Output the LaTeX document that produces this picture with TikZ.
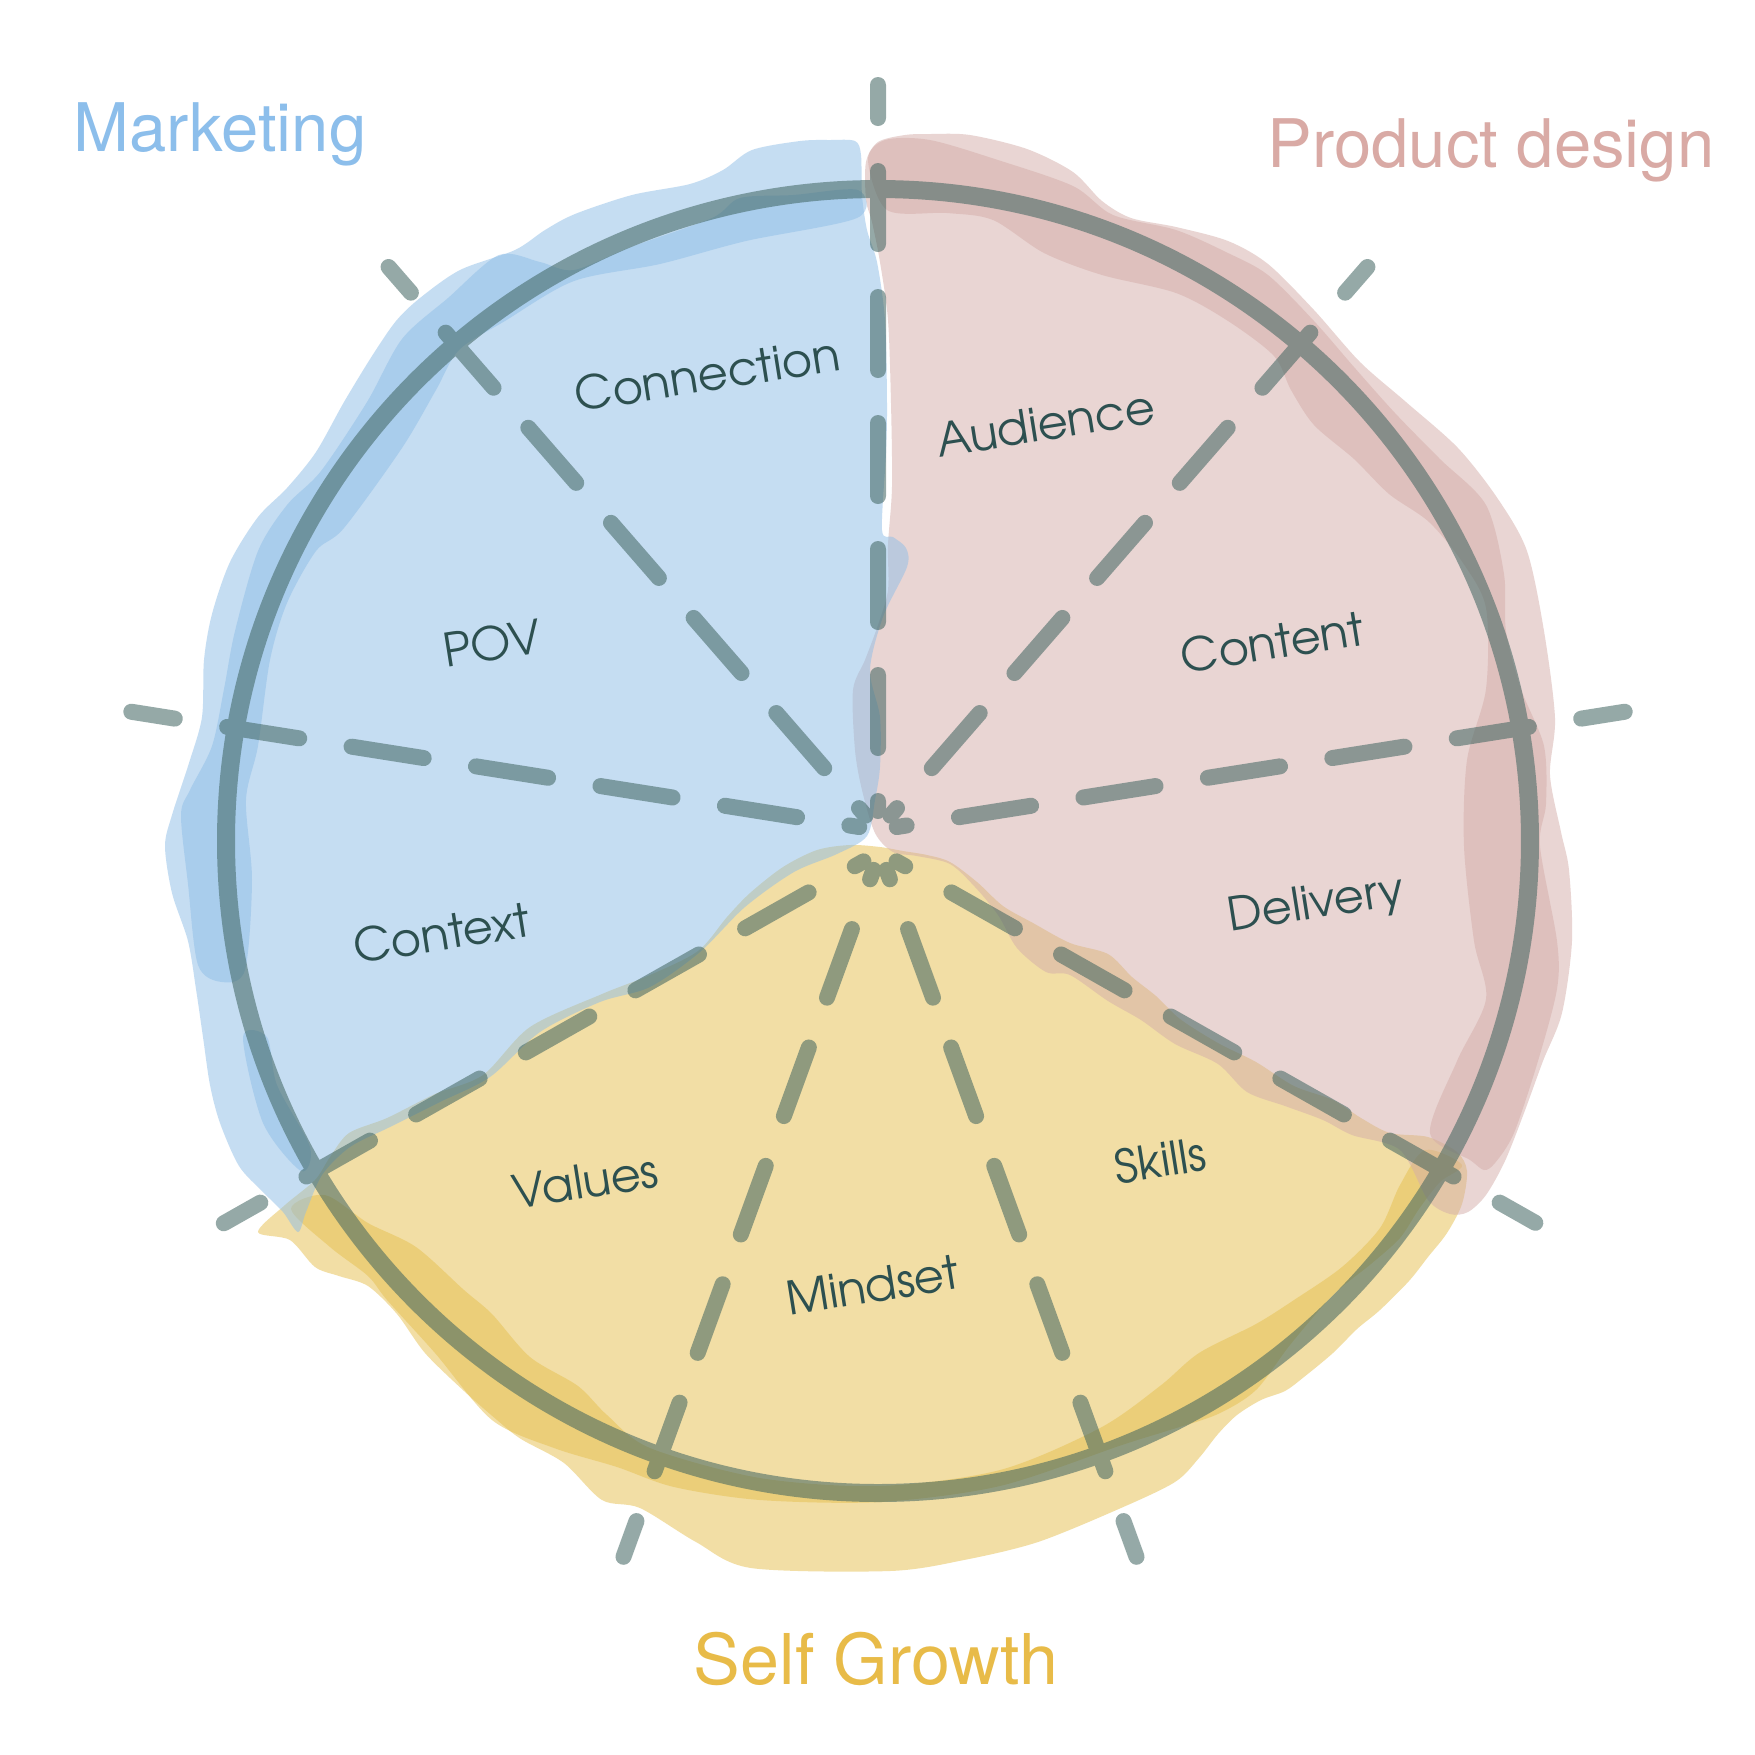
\documentclass[tikz,border=0pt]{standalone}
\usepackage{fontspec}
\newfontfamily\titlefont{TeX Gyre Heros}
\newfontfamily\labelfont{TeX Gyre Adventor}
\usetikzlibrary{calc}
\definecolor{blueC}{RGB}{143,190,231}
\definecolor{pinkC}{RGB}{212,173,169}
\definecolor{yellowC}{RGB}{230,192,79}
\definecolor{lineC}{RGB}{62,99,95}
\definecolor{labelC}{RGB}{45,80,80}
\definecolor{mkC}{RGB}{140,190,235}
\definecolor{pdC}{RGB}{217,170,165}
\definecolor{sgC}{RGB}{232,187,72}
\tikzset{
  lbl/.style={font=\labelfont\fontsize{4.62mm}{5.5mm}\selectfont, text=labelC, rotate=9, anchor=base, inner sep=0pt},
  ttl/.style={font=\titlefont\fontsize{6.7mm}{8mm}\selectfont, anchor=base, inner sep=0pt},
  dashline/.style={line width=1.6mm, line cap=round, draw=lineC, dash pattern=on 7.3mm off 5.3mm, dash phase=6.3mm},
  ring/.style={line width=1.8mm, draw=lineC},
  layer/.style={fill opacity=0.51}
}
\begin{document}
\begin{tikzpicture}[x=0.1mm,y=-0.1mm]
\fill[white] (0,0) rectangle (1755,1755);
\useasboundingbox (0,0) rectangle (1755,1755);

% ---------- yellow (Self Growth) ----------
\fill[yellowC,layer] plot[smooth cycle, tension=0.5] coordinates {
(880,847)(903,851)(927,855)(950,862)(977,882)(1003,906)(1033,923)(1070,943)(1108,954)(1132,977)(1156,996)(1180,1019)(1218,1043)(1256,1062)(1294,1086)(1333,1100)(1361,1118)(1390,1133)(1428,1137)(1457,1152)(1467,1171)(1462,1204)(1447,1233)(1428,1257)(1409,1281)(1380,1310)(1357,1329)(1333,1353)(1304,1377)(1285,1391)(1261,1400)(1237,1415)(1218,1434)(1199,1458)(1175,1482)(1121,1508)(1038,1542)(964,1560)(890,1571)(751,1568)(696,1542)(640,1508)(602,1500)(564,1463)(521,1439)(497,1420)(464,1391)(425,1353)(397,1314)(368,1286)(339,1276)(315,1267)(290,1240)(258,1232)(285,1205)(315,1180)(330,1157)(349,1133)(387,1118)(435,1094)(483,1075)(530,1027)(602,994)(650,975)(698,951)(727,917)(750,893)(783,867)(817,850)(850,845)};
\fill[yellowC,layer] plot[smooth cycle, tension=0.5] coordinates {
(291,1209)(330,1247)(368,1276)(387,1300)(435,1353)(492,1420)(554,1448)(617,1467)(674,1487)(760,1500)(880,1502)(1000,1486)(1122,1445)(1170,1430)(1218,1414)(1256,1390)(1290,1345)(1333,1295)(1371,1264)(1400,1238)(1419,1209)(1440,1182)(1462,1165)
(1425,1150)(1400,1185)(1380,1228)(1342,1267)(1294,1300)(1256,1324)(1199,1353)(1160,1386)(1100,1428)(1000,1470)(880,1486)(760,1478)(650,1448)(607,1415)(578,1386)(530,1357)(492,1314)(464,1290)(416,1247)(368,1223)(325,1195)};

% ---------- pink (Product design) ----------
\fill[pinkC,layer] plot[smooth cycle, tension=0.5] coordinates {
(878,142)(905,135)(930,134)(970,135)(1027,149)(1073,172)(1102,201)(1131,218)(1176,227)(1228,241)(1268,264)(1314,310)(1360,362)(1406,402)(1458,448)(1498,499)(1527,551)(1544,631)(1555,718)(1550,775)(1561,832)(1569,870)(1572,941)(1562,1013)(1543,1061)(1524,1113)(1505,1161)(1486,1195)(1468,1212)(1450,1214)(1428,1200)(1400,1150)(1352,1135)(1323,1120)(1285,1106)(1247,1092)(1218,1064)(1175,1044)(1141,1020)(1108,1001)(1070,975)(1046,972)(1017,948)(998,915)(975,887)(950,864)(917,856)(893,852)(875,833)(862,790)(855,750)(853,690)(865,660)(878,625)(888,590)(888,545)(892,487)(891,403)(888,320)(880,262)(872,222)(866,200)(866,162)};
\fill[pinkC,layer] plot[smooth cycle, tension=0.5] coordinates {
(868,160)(885,140)(930,140)(998,160)(1073,186)(1113,215)(1176,230)(1228,253)(1268,275)(1314,321)(1354,367)(1395,413)(1440,459)(1486,505)(1504,574)(1506,631)(1521,689)(1544,746)(1546,804)(1540,846)(1557,941)(1557,989)(1538,1061)(1514,1133)(1495,1163)(1484,1170)
(1470,1160)(1430,1133)(1457,1061)(1486,999)(1474,941)(1464,846)(1467,760)(1486,689)(1486,608)(1463,563)(1429,522)(1389,494)(1354,459)(1314,425)(1291,390)(1274,356)(1228,321)(1176,293)(1102,275)(1044,253)(993,220)(947,213)(887,210)};

% ---------- blue (Marketing) ----------
\fill[blueC,layer] plot[smooth cycle, tension=0.5] coordinates {
(855,141)(830,140)(800,141)(752,150)(723,170)(690,184)(632,195)(575,214)(545,230)(515,250)(460,270)(420,298)(396,321)(372,356)(344,402)(316,452)(287,488)(258,517)(230,562)(212,614)(204,660)(202,717)(189,763)(172,815)(165,846)(172,893)(188,941)(196,989)(203,1037)(210,1085)(220,1123)(239,1166)(263,1192)(283,1212)(298,1232)(306,1212)(322,1175)(350,1147)(390,1127)(440,1102)(490,1077)(540,1032)(600,1002)(650,987)(700,952)(745,907)(794,872)(837,854)(867,836)(875,800)(880,767)(880,717)(870,670)(883,617)(907,567)(906,548)(893,537)(882,530)(886,453)(887,403)(885,320)(877,262)(867,230)(862,195)(861,155)};
\fill[blueC,layer] plot[smooth cycle, tension=0.5] coordinates {
(858,190)(793,195)(740,198)(712,218)(631,247)(574,270)(540,262)(499,255)(448,298)(402,339)(367,402)(321,471)(287,505)(258,551)(235,631)(224,689)(212,746)(190,790)(181,815)(188,884)(198,965)(222,982)
(245,970)(252,880)(246,800)(258,746)(270,660)(287,603)(316,551)(344,528)(402,448)(436,390)(459,350)(505,321)(574,281)(660,264)(746,241)(857,218)};
\fill[blueC,layer] plot[smooth cycle, tension=0.5] coordinates {
(243,1037)(263,1123)(301,1171)(310,1147)(277,1085)(267,1037)};

% ---------- circle and dashed spokes (one translucent group) ----------
\coordinate (C) at (878,841);
\coordinate (U) at (878,830);
\coordinate (D) at (880,852);
\begin{scope}[transparency group, opacity=0.545]
\draw[ring] (C) circle[radius=65.2mm];
\foreach \a/\l/\n in {90/745/a,131/746/b,49/746/c,171/756/d,9/756/e}{
  \path (U) ++(-\a:19) coordinate (s\n) (U) ++(-\a:\l) coordinate (e\n);
  \draw[dashline] (s\n) -- (e\n);
}
\foreach \a/\l/\n in {209.5/754/f,330.5/753/g,250/750/h,290/750/i}{
  \path (D) ++(-\a:19) coordinate (s\n) (D) ++(-\a:\l) coordinate (e\n);
  \draw[dashline] (s\n) -- (e\n);
}
\end{scope}

% ---------- labels ----------
\node[lbl] (connection) at (710,391) {Connection};
\node[lbl] (audience) at (1048,440) {Audience};
\node[lbl] (pov) at (495,660) {POV};
\node[lbl] (content) at (1275,659) {Content};
\node[lbl] (context) at (444,950) {Context};
\node[lbl] (delivery) at (1318,918) {Delivery};
\node[lbl] (values) at (588,1198) {Values};
\node[lbl] (mindset) at (875,1302) {Mindset};
\node[lbl] (skills) at (1163,1177) {Skills};

% ---------- titles ----------
\node[ttl,text=mkC] (marketing) at (220,151) {Marketing};
\node[ttl,text=pdC] (product) at (1491,167) {Product design};
\node[ttl,text=sgC,font=\titlefont\fontsize{7mm}{8.4mm}\selectfont] (growth) at (876,1684) {Self Growth};
\end{tikzpicture}
\end{document}
